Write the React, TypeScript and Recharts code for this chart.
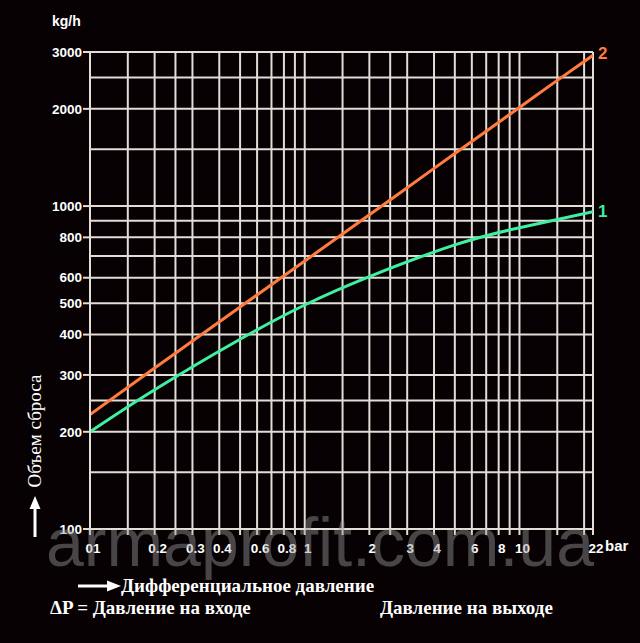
import { LineChart, Line, XAxis, YAxis, CartesianGrid } from 'recharts';

// grid positions (log scales)
const xGrid = [0.1, 0.15, 0.2, 0.25, 0.3, 0.4, 0.5, 0.6, 0.7, 0.8, 0.9, 1, 1.5, 2, 2.5, 3, 4, 5, 6, 7, 8, 9, 10, 15, 20, 22];
const yGrid = [100, 150, 200, 250, 300, 400, 500, 600, 700, 800, 900, 1000, 1500, 2000, 2500, 3000];

// labelled ticks
const xLabelValues = [0.1, 0.2, 0.3, 0.4, 0.6, 0.8, 1, 2, 3, 4, 6, 8, 10, 22];
const xLabelTexts = ['01', '0.2', '0.3', '0.4', '0.6', '0.8', '1', '2', '3', '4', '6', '8', '10', '22'];
const yLabelValues = [100, 200, 300, 400, 500, 600, 800, 1000, 2000, 3000];
const yLabelTexts = ['100', '200', '300', '400', '500', '600', '800', '1000', '2000', '3000'];

// curve 1 (green)
const pressure1 = [0.1, 0.2, 0.5, 1, 2, 5, 10, 22];
const flow1 = [200, 270, 387, 494, 605, 758, 857, 960];
// curve 2 (orange)
const pressure2 = [0.1, 0.2, 0.3, 0.5, 1, 2, 3, 5, 10, 15, 22];
const flow2 = [226, 315, 382, 487, 676, 940, 1140, 1455, 2020, 2450, 2930];

const series1 = pressure1.map((x, i) => ({ x, y: flow1[i] }));
const series2 = pressure2.map((x, i) => ({ x, y: flow2[i] }));

const BG = '#070103';
const GRID = '#e2ddd7';
const GREEN = '#3ff0a0';
const ORANGE = '#ff7c3e';
const SANS = '"Liberation Sans", Arial, sans-serif';
const SERIF = '"Liberation Serif", "DejaVu Serif", serif';

const XTick = (props: any) => {
  const { x, y, payload } = props;
  const i = xLabelValues.indexOf(payload.value);
  return (
    <g>
      <line x1={x} x2={x} y1={y - 8} y2={y - 2} stroke={GRID} strokeWidth={2} />
      {i >= 0 && (
        <text x={x + 3} y={y + 16} textAnchor="middle" fill="#fff" fontFamily={SANS} fontWeight="bold" fontSize={13.5}>
          {xLabelTexts[i]}
        </text>
      )}
    </g>
  );
};

const YTick = (props: any) => {
  const { x, y, payload } = props;
  const i = yLabelValues.indexOf(payload.value);
  if (i < 0) return <g />;
  return (
    <g>
      <line x1={x + 1} x2={x + 8} y1={y} y2={y} stroke={GRID} strokeWidth={2} />
      <text x={x} y={y} dy="0.35em" textAnchor="end" fill="#fff" fontFamily={SANS} fontWeight="bold" fontSize={13.5}>
        {yLabelTexts[i]}
      </text>
    </g>
  );
};

const endLabel = (text: string, color: string, n: number, dy: number) => (props: any) => {
  if (props.index !== n - 1) return <g />;
  return (
    <text x={props.x + 5} y={props.y + dy} fill={color} fontFamily={SANS} fontWeight="bold" fontSize={17}>
      {text}
    </text>
  );
};

export default function App() {
  return (
    <div style={{ position: 'fixed', left: 0, top: 0, width: 640, height: 643, background: BG, overflow: 'hidden' }}>
      <LineChart width={640} height={643} margin={{ top: 52, right: 47, bottom: 84, left: 0 }}>
        <CartesianGrid stroke={GRID} strokeWidth={2} />
        <XAxis
          dataKey="x"
          type="number"
          scale="log"
          domain={[0.1, 22]}
          ticks={xGrid}
          interval={0}
          allowDataOverflow
          height={30}
          tickLine={false}
          axisLine={{ stroke: GRID, strokeWidth: 2 }}
          tick={<XTick />}
        />
        <YAxis
          type="number"
          scale="log"
          domain={[100, 3000]}
          ticks={yGrid}
          interval={0}
          allowDataOverflow
          width={90}
          tickLine={false}
          axisLine={{ stroke: GRID, strokeWidth: 2 }}
          tick={<YTick />}
        />
        <Line
          data={series2}
          dataKey="y"
          type="monotone"
          stroke={ORANGE}
          strokeWidth={3}
          dot={false}
          isAnimationActive={false}
          label={endLabel('2', ORANGE, series2.length, 4)}
        />
        <Line
          data={series1}
          dataKey="y"
          type="natural"
          stroke={GREEN}
          strokeWidth={3}
          dot={false}
          isAnimationActive={false}
          label={endLabel('1', GREEN, series1.length, 5)}
        />
      </LineChart>

      <svg width={640} height={643} style={{ position: 'absolute', left: 0, top: 0, pointerEvents: 'none' }}>
        <text x={52} y={26} fill="#fff" fontFamily={SANS} fontWeight="bold" fontSize={14}>kg/h</text>
        <text x={605} y={551} fill="#fff" fontFamily={SANS} fontWeight="bold" fontSize={15}>bar</text>

        {/* y title */}
        <text transform="translate(41,431) rotate(-90)" textAnchor="middle" fill="#fff" fontFamily={SERIF} fontSize={19}>
          Объем сброса
        </text>
        <line x1={35} y1={537} x2={35} y2={506} stroke="#fff" strokeWidth={3} />
        <polygon points="35,496 29.5,509 40.5,509" fill="#fff" />

        {/* x title */}
        <line x1={78} y1={586} x2={108} y2={586} stroke="#fff" strokeWidth={3} />
        <polygon points="121,586 107,580.5 107,591.5" fill="#fff" />
        <text x={121} y={592} fill="#fff" fontFamily={SERIF} fontWeight="bold" fontSize={19}>
          Дифференциальное давление
        </text>
        <text x={50} y={614} fill="#fff" fontFamily={SERIF} fontWeight="bold" fontSize={19}>
          ΔP = Давление на входе
        </text>
        <text x={380} y={614} fill="#fff" fontFamily={SERIF} fontWeight="bold" fontSize={19}>
          Давление на выходе
        </text>

        {/* watermark */}
        <text x={320} y={566} textAnchor="middle" fill="#9a9a9a" fillOpacity={0.45} fontFamily={SANS} fontSize={68}>
          armaprofit.com.ua
        </text>
      </svg>
    </div>
  );
}
